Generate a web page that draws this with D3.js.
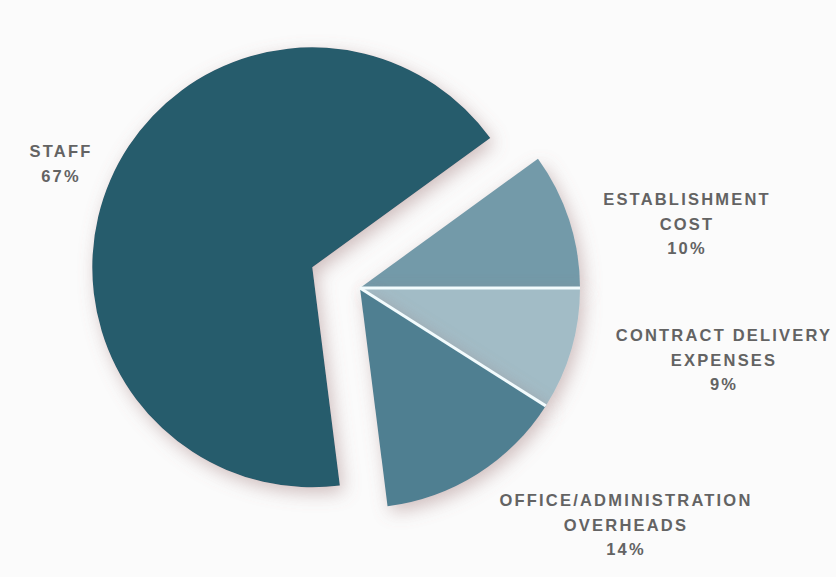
<!DOCTYPE html>
<html>
<head>
<meta charset="utf-8">
<script src="https://cdn.jsdelivr.net/npm/d3@7"></script>
<style>
  html, body { margin: 0; padding: 0; background: #fbfbfb; }
  svg { display: block; }
</style>
</head>
<body>
<svg id="chart" width="836" height="577"></svg>
<script>
// ---- data ----
const categories = ["ESTABLISHMENT COST", "CONTRACT DELIVERY EXPENSES", "OFFICE/ADMINISTRATION OVERHEADS", "STAFF"];
const labelLines = [["ESTABLISHMENT", "COST"], ["CONTRACT DELIVERY", "EXPENSES"], ["OFFICE/ADMINISTRATION", "OVERHEADS"], ["STAFF"]];
const values = [10, 9, 14, 67];
const colors = ["#739aa9", "#a2bcc6", "#4f7f91", "#255b6c"];

// ---- layout ----
const W = 836, H = 577;
const cx = 360, cy = 288, R = 220;
const explodeIndex = 3, explodeDist = 52;
const labelAnchors = [[687, 205], [724, 341], [626, 506], [61, 157]];
const lineH = 24.5;

const svg = d3.select("#chart");
svg.append("rect").attr("width", W).attr("height", H).attr("fill", "#fbfbfb");

const defs = svg.append("defs");
const f = defs.append("filter").attr("id", "shadow")
  .attr("x", "-25%").attr("y", "-25%").attr("width", "150%").attr("height", "150%");
f.append("feGaussianBlur").attr("in", "SourceAlpha").attr("stdDeviation", 9).attr("result", "b");
f.append("feOffset").attr("in", "b").attr("dx", 4).attr("dy", 6).attr("result", "o");
f.append("feFlood").attr("flood-color", "#9a7474").attr("flood-opacity", 0.45).attr("result", "c");
f.append("feComposite").attr("in", "c").attr("in2", "o").attr("operator", "in").attr("result", "s");
const m = f.append("feMerge");
m.append("feMergeNode").attr("in", "s");
m.append("feMergeNode").attr("in", "SourceGraphic");

const start = 54 * Math.PI / 180;
const pie = d3.pie().sort(null).value(d => d).startAngle(start).endAngle(start + 2 * Math.PI);
const arcs = pie(values);
const arc = d3.arc().innerRadius(0).outerRadius(R);

const g = svg.append("g").attr("transform", `translate(${cx},${cy})`);

arcs.forEach((a, i) => {
  let dx = 0, dy = 0;
  if (i === explodeIndex) {
    const mid = (a.startAngle + a.endAngle) / 2;
    dx = Math.sin(mid) * explodeDist;
    dy = -Math.cos(mid) * explodeDist;
  }
  g.append("path")
    .attr("d", arc(a))
    .attr("transform", `translate(${dx},${dy})`)
    .attr("fill", colors[i])
    .attr("filter", "url(#shadow)");
});

// white separators between the small slices
arcs.forEach((a, i) => {
  if (i === explodeIndex || i === 0) return;
  g.append("line")
    .attr("x1", 0).attr("y1", 0)
    .attr("x2", Math.sin(a.startAngle) * R).attr("y2", -Math.cos(a.startAngle) * R)
    .attr("stroke", "#f2fbfd").attr("stroke-width", 3);
});

// labels
arcs.forEach((a, i) => {
  const [x, y] = labelAnchors[i];
  const lines = labelLines[i].concat([values[i] + "%"]);
  const t = svg.append("text")
    .attr("text-anchor", "middle")
    .attr("font-family", "Liberation Sans, Arial, sans-serif")
    .attr("font-weight", "bold")
    .attr("font-size", 16.5)
    .attr("letter-spacing", 2.2)
    .attr("fill", "#636363");
  lines.forEach((ln, k) => {
    t.append("tspan").attr("x", x).attr("y", y + k * lineH).text(ln);
  });
});
</script>
</body>
</html>
